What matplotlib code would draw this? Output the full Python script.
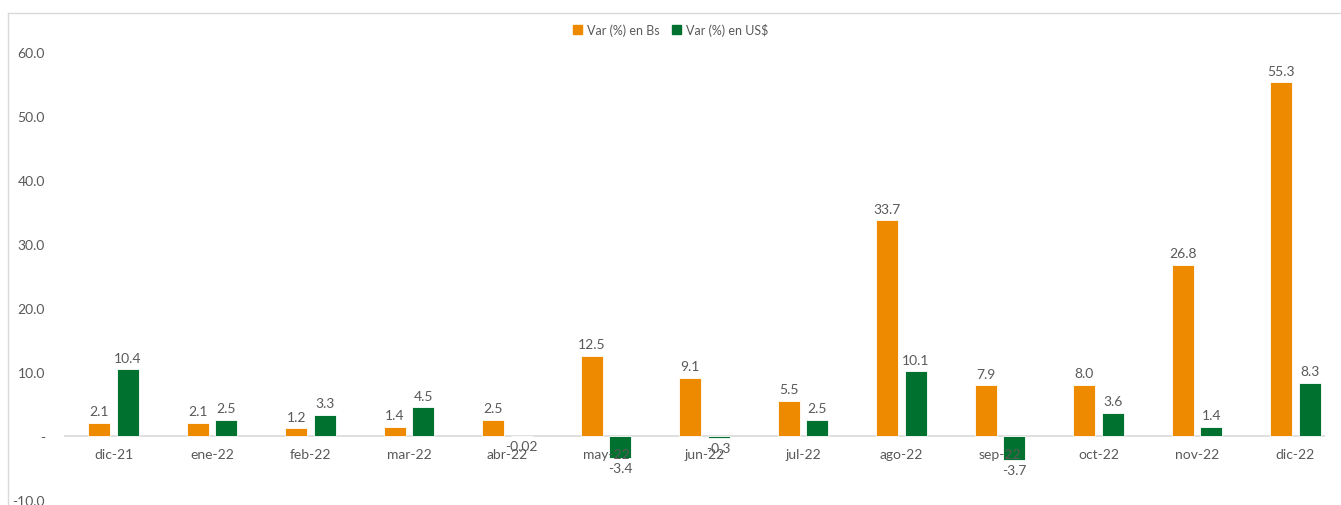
import numpy as np
import matplotlib.pyplot as plt
from matplotlib.lines import Line2D

# --- datos ---
meses = ["dic-21", "ene-22", "feb-22", "mar-22", "abr-22", "may-22", "jun-22",
         "jul-22", "ago-22", "sep-22", "oct-22", "nov-22", "dic-22"]
var_bs = [2.1, 2.1, 1.2, 1.4, 2.5, 12.5, 9.1, 5.5, 33.7, 7.9, 8.0, 26.8, 55.3]
var_usd = [10.4, 2.5, 3.3, 4.5, -0.02, -3.4, -0.3, 2.5, 10.1, -3.7, 3.6, 1.4, 8.3]
etiquetas_usd = ["10.4", "2.5", "3.3", "4.5", "-0.02", "-3.4", "-0.3", "2.5",
                 "10.1", "-3.7", "3.6", "1.4", "8.3"]
y_ticks = [-10, 0, 10, 20, 30, 40, 50, 60]

NARANJA = "#EE8A00"
VERDE = "#00712F"
GRIS = "#595959"

plt.rcParams['font.family'] = ['Lato', 'DejaVu Sans']

fig = plt.figure(figsize=(13.41, 5.06), dpi=100)
ax = fig.add_axes([0.048, 0.01, 0.94, 0.885])

x = np.arange(len(meses))
w = 0.225
off = 0.145
b1 = ax.bar(x - off, var_bs, w, color=NARANJA, edgecolor="white", linewidth=0.6)
b2 = ax.bar(x + off, var_usd, w, color=VERDE, edgecolor="white", linewidth=0.6)

# etiquetas de datos
for rect, v in zip(b1, var_bs):
    ax.annotate(f"{v:.1f}", (rect.get_x() + rect.get_width() / 2, v),
                xytext=(0, 4), textcoords="offset points", ha="center",
                va="bottom", fontsize=10, color=GRIS)
for rect, v, t in zip(b2, var_usd, etiquetas_usd):
    if v >= 0:
        ax.annotate(t, (rect.get_x() + rect.get_width() / 2, v),
                    xytext=(0, 4), textcoords="offset points", ha="center",
                    va="bottom", fontsize=10, color=GRIS)
    else:
        ax.annotate(t, (rect.get_x() + rect.get_width() / 2, v),
                    xytext=(0, -3), textcoords="offset points", ha="center",
                    va="top", fontsize=10, color=GRIS)

# nombres de meses bajo la linea de cero
for xi, m in zip(x, meses):
    ax.annotate(m, (xi, 0), xytext=(0, -9), textcoords="offset points",
                ha="center", va="top", fontsize=10, color=GRIS)

ax.axhline(0, color="#D9D9D9", linewidth=1.2, zorder=0)
ax.set_xlim(-0.5, 12.3)
ax.set_ylim(-10, 60)
ax.set_xticks([])
ax.set_yticks(y_ticks)
ax.set_yticklabels(["-" if t == 0 else f"{t:.1f}" for t in y_ticks],
                   fontsize=10, color=GRIS)
ax.tick_params(axis="y", length=0, pad=14)
for s in ax.spines.values():
    s.set_visible(False)

handles = [plt.Rectangle((0, 0), 1, 1, color=NARANJA),
           plt.Rectangle((0, 0), 1, 1, color=VERDE)]
fig.legend(handles, ["Var (%) en Bs", "Var (%) en US$"], loc="center",
           bbox_to_anchor=(0.5, 0.94), ncol=2, frameon=False, fontsize=9,
           handlelength=0.7, handleheight=0.7, handletextpad=0.4,
           columnspacing=1.0, labelcolor=GRIS)

# borde del grafico
fig.add_artist(Line2D([8 / 1341, 1], [1 - 14 / 506, 1 - 14 / 506],
                      color="#D9D9D9", linewidth=1, transform=fig.transFigure))
fig.add_artist(Line2D([8 / 1341, 8 / 1341], [0, 1 - 14 / 506],
                      color="#D9D9D9", linewidth=1, transform=fig.transFigure))

fig.savefig("out.png", dpi=100)
